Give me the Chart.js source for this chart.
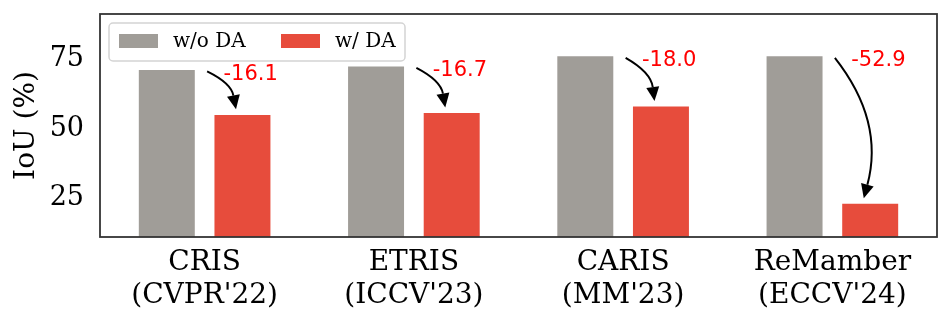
<!DOCTYPE html>
<html>
<head>
<meta charset="utf-8">
<script src="https://cdn.jsdelivr.net/npm/chart.js@4"></script>
<style>
  body { margin: 0; background: #fff; }
  #wrap { width: 952px; height: 325px; }
</style>
</head>
<body>
<div id="wrap"><canvas id="chart" width="952" height="325"></canvas></div>
<script>
// data
const categories = [['CRIS', "(CVPR'22)"], ['ETRIS', "(ICCV'23)"], ['CARIS', "(MM'23)"], ['ReMamber', "(ECCV'24)"]];
const seriesNames = ['w/o DA', 'w/ DA'];
const withoutDA = [69.9, 71.2, 74.8, 74.8];
const withDA = [53.8, 54.5, 56.8, 21.9];
const drops = ['-16.1', '-16.7', '-18.0', '-52.9'];
const yTicks = [25, 50, 75];

const GRAY = '#a09d98';
const RED = '#e74c3c';
const SERIF = "'DejaVu Serif', serif";
const SANS = "'DejaVu Sans', sans-serif";

// frame around the plot + legend box + arrows
const extras = {
    id: 'extras',
    afterDatasetsDraw(chart) {
        const ctx = chart.ctx;
        const a = chart.chartArea;
        const x = chart.scales.x, y = chart.scales.y;
        const catW = (x.getPixelForValue(1) - x.getPixelForValue(0));

        // arrows + drop labels
        for (let i = 0; i < categories.length; i++) {
            const cx = x.getPixelForValue(i);
            const x0 = cx + 0.012 * catW, y0 = y.getPixelForValue(withoutDA[i] - 0.5);
            const x1 = cx + 0.15 * catW, y1 = y.getPixelForValue(withDA[i] + 2);
            const dx = x1 - x0, dy = y1 - y0;
            const rad = 0.25;
            const qx = (x0 + x1) / 2 + rad * dy, qy = (y0 + y1) / 2 - rad * dx;
            // arrow head direction
            let hx = x1 - qx, hy = y1 - qy;
            const hl = Math.hypot(hx, hy); hx /= hl; hy /= hl;
            const headLen = 14, headW = 6.5;
            const bx = x1 - hx * headLen, by = y1 - hy * headLen;
            ctx.save();
            ctx.strokeStyle = '#000';
            ctx.lineWidth = 2;
            ctx.beginPath();
            ctx.moveTo(x0, y0);
            ctx.quadraticCurveTo(qx, qy, bx, by);
            ctx.stroke();
            ctx.fillStyle = '#000';
            ctx.beginPath();
            ctx.moveTo(x1, y1);
            ctx.lineTo(bx - hy * headW, by + hx * headW);
            ctx.lineTo(bx + hy * headW, by - hx * headW);
            ctx.closePath();
            ctx.fill();

            ctx.fillStyle = '#ff0000';
            ctx.font = '21px ' + SANS;
            ctx.textAlign = 'left';
            ctx.textBaseline = 'middle';
            ctx.fillText(drops[i], cx + 0.09 * catW, y.getPixelForValue(withoutDA[i] - 1.6));
            ctx.restore();
        }

        // legend
        ctx.save();
        const lx = a.left + 9, ly = a.top + 9, lw = 296, lh = 38;
        ctx.fillStyle = 'rgba(255,255,255,0.8)';
        ctx.strokeStyle = '#d4d4d4';
        ctx.lineWidth = 1.5;
        ctx.beginPath();
        ctx.roundRect(lx, ly, lw, lh, 4);
        ctx.fill();
        ctx.stroke();
        const colors = [GRAY, RED];
        const itemX = [lx + 10, lx + 172];
        ctx.font = '20px ' + SERIF;
        ctx.textBaseline = 'middle';
        ctx.textAlign = 'left';
        for (let k = 0; k < seriesNames.length; k++) {
            ctx.fillStyle = colors[k];
            ctx.fillRect(itemX[k], ly + 11, 39, 14);
            ctx.fillStyle = '#000';
            ctx.fillText(seriesNames[k], itemX[k] + 54, ly + 19);
        }
        ctx.restore();

        // frame
        ctx.save();
        ctx.strokeStyle = '#333';
        ctx.lineWidth = 1.8;
        ctx.strokeRect(a.left, a.top, a.right - a.left, a.bottom - a.top);
        ctx.restore();
    }
};

new Chart(document.getElementById('chart'), {
    type: 'bar',
    data: {
        labels: categories,
        datasets: [
            { label: seriesNames[0], data: withoutDA, backgroundColor: GRAY },
            { label: seriesNames[1], data: withDA, backgroundColor: RED }
        ]
    },
    options: {
        responsive: false,
        animation: false,
        devicePixelRatio: 1,
        categoryPercentage: 0.723,
        barPercentage: 0.74,
        layout: { padding: { top: 14, right: 15, left: 0, bottom: 0 } },
        plugins: { legend: { display: false }, tooltip: { enabled: false } },
        scales: {
            x: {
                grid: { display: false, drawTicks: false },
                border: { display: false },
                ticks: { color: '#000', font: { family: SERIF, size: 28, lineHeight: 1.15 }, padding: 10, maxRotation: 0 },
                afterFit(s) { s.height = 88; s.paddingLeft = 0; s.paddingRight = 0; }
            },
            y: {
                min: 10,
                max: 90,
                grid: { display: false, drawTicks: false },
                border: { display: false },
                afterBuildTicks(s) { s.ticks = yTicks.map(v => ({ value: v })); },
                ticks: { color: '#000', font: { family: SERIF, size: 27 }, padding: 16, labelOffset: 3 },
                title: { display: true, text: 'IoU (%)', color: '#000', font: { family: SERIF, size: 28 }, padding: { top: 10, bottom: 0 } },
                afterFit(s) { s.width = 100; s.paddingTop = 0; s.paddingBottom = 0; }
            }
        }
    },
    plugins: [extras]
});
</script>
</body>
</html>
